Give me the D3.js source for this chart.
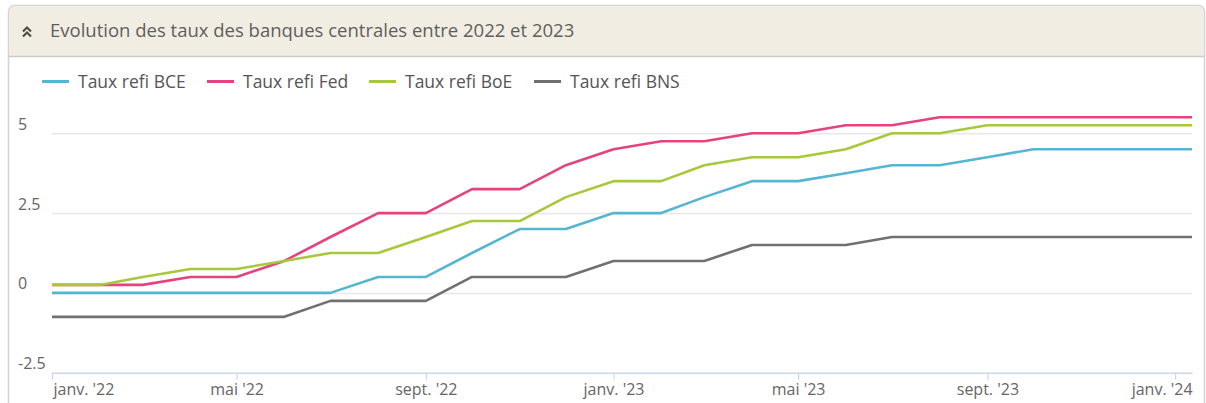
<!DOCTYPE html>
<html>
<head>
<meta charset="utf-8">
<script src="https://cdn.jsdelivr.net/npm/d3@7"></script>
<style>
  body { margin: 0; background: #fff; }
  svg { display: block; font-family: "Open Sans", sans-serif; }
</style>
</head>
<body>
<div id="chart"></div>
<script>
// Monthly values (start of month), last point = right edge of the plot
var dates = ["2022-01-01","2022-02-01","2022-03-01","2022-04-01","2022-05-01","2022-06-01",
  "2022-07-01","2022-08-01","2022-09-01","2022-10-01","2022-11-01","2022-12-01",
  "2023-01-01","2023-02-01","2023-03-01","2023-04-01","2023-05-01","2023-06-01",
  "2023-07-01","2023-08-01","2023-09-01","2023-10-01","2023-11-01","2023-12-01",
  "2024-01-01","2024-01-12"];

var seriesNames = ["Taux refi BCE", "Taux refi Fed", "Taux refi BoE", "Taux refi BNS"];

var bce = [0,0,0,0,0,0,0,0.5,0.5,1.25,2,2, 2.5,2.5,3,3.5,3.5,3.75,4,4,4.25,4.5,4.5,4.5, 4.5,4.5];
var fed = [0.25,0.25,0.25,0.5,0.5,1,1.75,2.5,2.5,3.25,3.25,4, 4.5,4.75,4.75,5,5,5.25,5.25,5.5,5.5,5.5,5.5,5.5, 5.5,5.5];
var boe = [0.25,0.25,0.5,0.75,0.75,1,1.25,1.25,1.75,2.25,2.25,3, 3.5,3.5,4,4.25,4.25,4.5,5,5,5.25,5.25,5.25,5.25, 5.25,5.25];
var bns = [-0.75,-0.75,-0.75,-0.75,-0.75,-0.75,-0.25,-0.25,-0.25,0.5,0.5,0.5, 1,1,1,1.5,1.5,1.5,1.75,1.75,1.75,1.75,1.75,1.75, 1.75,1.75];

var yTicks = [-2.5, 0, 2.5, 5];
var xTickDates = ["2022-01-01","2022-05-01","2022-09-01","2023-01-01","2023-05-01","2023-09-01","2024-01-01"];
var xTickLabels = ["janv. '22","mai '22","sept. '22","janv. '23","mai '23","sept. '23","janv. '24"];

var colors = ["#55b5d2", "#e5437f", "#a8c83b", "#707070"];

function init(){
  var W = 1206, H = 403;
  var parse = d3.utcParse("%Y-%m-%d");
  var allSeries = [bce, fed, boe, bns];

  var svg = d3.select("#chart").append("svg")
    .attr("width", W).attr("height", H);

  // card + header
  svg.append("rect")
    .attr("x", 8.5).attr("y", 5.5)
    .attr("width", 1196).attr("height", 430)
    .attr("rx", 6)
    .attr("fill", "#fff")
    .attr("stroke", "#d4d4d4").attr("stroke-width", 1.5);

  svg.append("path")
    .attr("d", "M9.25,56 L9.25,12 Q9.25,6.25 15,6.25 L1198,6.25 Q1203.75,6.25 1203.75,12 L1203.75,56 Z")
    .attr("fill", "#f2ede2");

  svg.append("line")
    .attr("x1", 9).attr("x2", 1204)
    .attr("y1", 56.5).attr("y2", 56.5)
    .attr("stroke", "#cbcbcb").attr("stroke-width", 1.5);

  // double chevron icon
  [0, 5].forEach(function(off){
    svg.append("polyline")
      .attr("points", "23," + (31.5 + off) + " 27," + (27.5 + off) + " 31," + (31.5 + off))
      .attr("fill", "none").attr("stroke", "#4a4a4a").attr("stroke-width", 2.1);
  });

  svg.append("text")
    .attr("x", 50).attr("y", 37)
    .attr("fill", "#5e5e5e")
    .style("font-size", "18.5px")
    .text("Evolution des taux des banques centrales entre 2022 et 2023");

  // legend
  var legendX = [42, 207, 369, 534];
  seriesNames.forEach(function(name, i){
    var g = svg.append("g").attr("transform", "translate(" + legendX[i] + ",81.5)");
    g.append("line")
      .attr("x1", 0).attr("x2", 27)
      .attr("stroke", colors[i]).attr("stroke-width", 3);
    g.append("text")
      .attr("x", 36).attr("y", 6.5)
      .attr("fill", "#555")
      .style("font-size", "17.5px")
      .text(name);
  });

  // scales
  var x = d3.scaleUtc()
    .domain([parse(dates[0]), parse(dates[dates.length - 1])])
    .range([52, 1192]);

  var y = d3.scaleLinear()
    .domain([-2.5, 5.5])
    .range([372.7, 117.3]);

  // grid
  var grid = svg.append("g")
    .attr("transform", "translate(52,0)")
    .call(d3.axisLeft(y).tickValues(yTicks.filter(function(v){ return v > -2.5; }))
      .tickSize(-1140).tickFormat(""));
  grid.select(".domain").remove();
  grid.selectAll("line").attr("stroke", "#e8e8e8").attr("stroke-width", 1.5);

  // y labels
  svg.selectAll(".ylab")
    .data(yTicks)
    .enter().append("text")
    .attr("class", "ylab")
    .attr("x", 18)
    .attr("y", function(d){ return y(d) - 3.5; })
    .attr("fill", "#666")
    .style("font-size", "16px")
    .text(function(d){ return String(d); });

  // x axis
  var xa = svg.append("g")
    .attr("transform", "translate(0,372.7)")
    .call(d3.axisBottom(x)
      .tickValues(xTickDates.map(parse))
      .tickSize(7)
      .tickSizeOuter(0)
      .tickFormat(function(d, i){ return xTickLabels[i]; }));
  xa.select(".domain").attr("stroke", "#ccd6eb").attr("stroke-width", 1.5);
  xa.selectAll(".tick line").attr("stroke", "#ccd6eb").attr("stroke-width", 1.2);
  xa.selectAll(".tick text")
    .attr("fill", "#666")
    .attr("y", 11)
    .style("font-size", "16px")
    .style("font-family", "Open Sans, sans-serif")
    .attr("text-anchor", function(d, i){
      if (i === 0) return "start";
      if (i === xTickLabels.length - 1) return "end";
      return "middle";
    })
    .attr("dx", function(d, i){
      if (i === 0) return 1;
      if (i === xTickLabels.length - 1) return 17;
      return 0;
    });

  // lines
  var line = d3.line()
    .x(function(d, i){ return x(parse(dates[i])); })
    .y(function(d){ return y(d); });

  allSeries.forEach(function(values, i){
    svg.append("path")
      .datum(values)
      .attr("d", line)
      .attr("fill", "none")
      .attr("stroke", colors[i])
      .attr("stroke-width", 2.6)
      .attr("stroke-linejoin", "round");
  });
}

window.onload = init;
</script>
</body>
</html>
